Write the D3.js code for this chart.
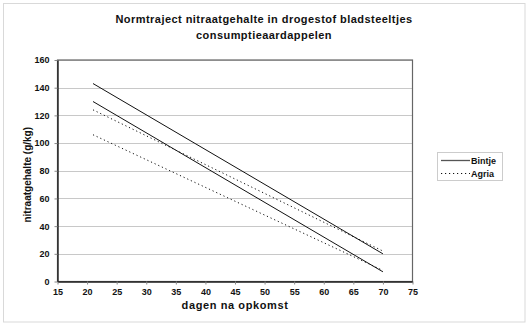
<!DOCTYPE html>
<html><head><meta charset="utf-8">
<script src="https://cdn.jsdelivr.net/npm/d3@7"></script>
<style>body{margin:0;background:#fff}svg{display:block;font-family:"Liberation Sans",Arial,sans-serif}</style>
</head><body>
<svg id="c" width="530" height="326"></svg>
<script>
const titleLines = ["Normtraject nitraatgehalte in drogestof bladsteeltjes", "consumptieaardappelen"];
const xLabel = "dagen na opkomst";
const yLabel = "nitraatgehalte (g/kg)";
const xTicks = [15,20,25,30,35,40,45,50,55,60,65,70,75];
const yTicks = [0,20,40,60,80,100,120,140,160];
const days = [21, 70];
const bintjeUpper = [143, 20];
const bintjeLower = [130, 7];
const agriaUpper = [124, 22];
const agriaLower = [106, 8];
const series = [
  {name:"Bintje", values:bintjeUpper, dash:null, legend:true},
  {name:"Bintje", values:bintjeLower, dash:null, legend:false},
  {name:"Agria", values:agriaUpper, dash:"1.2,2.8", legend:true},
  {name:"Agria", values:agriaLower, dash:"1.2,2.8", legend:false}
];

const svg = d3.select("#c");
const L=57.5, R=412.5, T=60, B=281.5;
const x = d3.scaleLinear().domain([15,75]).range([L,R]);
const y = d3.scaleLinear().domain([0,160]).range([B,T]);

svg.append("rect").attr("x",3.5).attr("y",3.5).attr("width",521.5).attr("height",318.5)
  .attr("fill","#fff").attr("stroke","#d9d9d9").attr("stroke-width",1);

// gridlines
svg.append("g").selectAll("line").data(yTicks.filter(d=>d>0)).join("line")
  .attr("x1",L).attr("x2",R).attr("y1",d=>Math.round(y(d))+0.5).attr("y2",d=>Math.round(y(d))+0.5)
  .attr("stroke","#c8c8c8").attr("stroke-width",1);

// plot border
svg.append("rect").attr("x",L).attr("y",T).attr("width",R-L).attr("height",B-T)
  .attr("fill","none").attr("stroke","#666").attr("stroke-width",1.2);

// axes
const xAxis = d3.axisBottom(x).tickValues(xTicks).tickSize(3).tickPadding(4).tickSizeOuter(0);
const gx = svg.append("g").attr("transform",`translate(0,${B})`).call(xAxis);
gx.select(".domain").attr("stroke","#222").attr("stroke-width",1.4);
gx.selectAll(".tick line").attr("stroke","#888");
gx.selectAll("text").attr("font-size",9).attr("font-weight","bold").attr("fill","#111")
  .attr("font-family","Liberation Sans, Arial, sans-serif");

const yAxis = d3.axisLeft(y).tickValues(yTicks).tickSize(3).tickPadding(5).tickSizeOuter(0);
const gy = svg.append("g").attr("transform",`translate(${L},0)`).call(yAxis);
gy.select(".domain").attr("stroke","#222").attr("stroke-width",1.4);
gy.selectAll(".tick line").attr("stroke","#888");
gy.selectAll("text").attr("font-size",9).attr("font-weight","bold").attr("fill","#111")
  .attr("font-family","Liberation Sans, Arial, sans-serif");

// lines
const line = d3.line().x((d,i)=>x(days[i])).y(d=>y(d));
svg.append("g").selectAll("path").data(series).join("path")
  .attr("d",d=>line(d.values)).attr("fill","none").attr("stroke","#111")
  .attr("stroke-width",1).attr("stroke-dasharray",d=>d.dash);

// title
svg.append("g").selectAll("text").data(titleLines).join("text")
  .attr("x",264).attr("y",(d,i)=>23+i*15.5).attr("text-anchor","middle")
  .attr("font-size",11).attr("font-weight","bold").attr("letter-spacing",0.45).attr("fill","#111")
  .text(d=>d);

svg.append("text").attr("x",(L+R)/2).attr("y",309).attr("text-anchor","middle")
  .attr("font-size",11).attr("font-weight","bold").attr("letter-spacing",0.6).attr("fill","#111").text(xLabel);
svg.append("text").attr("transform",`translate(31,${(T+B)/2+4}) rotate(-90)`).attr("text-anchor","middle")
  .attr("font-size",10).attr("font-weight","bold").attr("fill","#111").text(yLabel);

// legend
const lg = svg.append("g");
lg.append("rect").attr("x",437.5).attr("y",152.5).attr("width",65).attr("height",28)
  .attr("fill","#fff").attr("stroke","#ccc");
const legItems = series.filter(d=>d.legend);
const li = lg.selectAll("g").data(legItems).join("g")
  .attr("transform",(d,i)=>`translate(0,${160+i*13})`);
li.append("line").attr("x1",441).attr("x2",470).attr("y1",0.5).attr("y2",0.5)
  .attr("stroke",d=>d.dash?"#111":"#555").attr("stroke-width",d=>d.dash?1:1.3).attr("stroke-dasharray",d=>d.dash);
li.append("text").attr("x",471).attr("y",4).attr("font-size",9).attr("font-weight","bold").attr("fill","#111").text(d=>d.name);
</script>
</body></html>
